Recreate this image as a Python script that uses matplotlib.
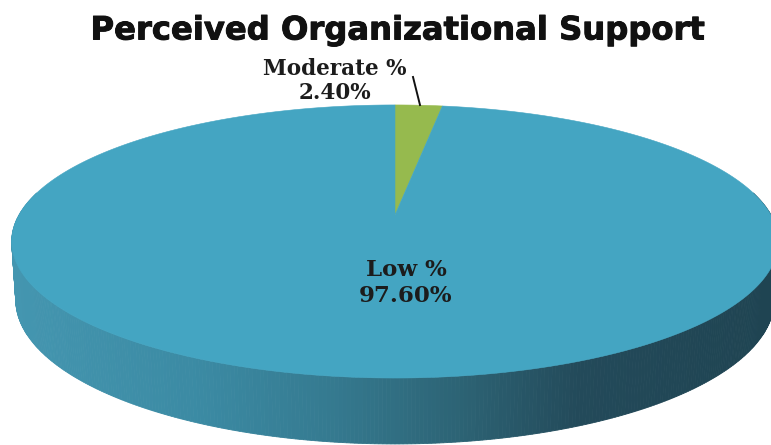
"""3D-style pie of perceived organizational support levels."""

from __future__ import annotations

import matplotlib

matplotlib.use("Agg")
import matplotlib.patheffects as pe
import matplotlib.pyplot as plt
import numpy as np
from matplotlib.colors import LinearSegmentedColormap

categories = ["Low %", "Moderate %"]
shares = [97.60, 2.40]
share_labels = ["97.60%", "2.40%"]
slice_colors = ["#44a5c2", "#96ba4e"]

# disc geometry in figure pixels, tilted with a simple projective foreshortening
CX, CY = 395.0, 215.0
RX, RY = 376.0, 131.4
TILT = 0.194
# lower rim of the wall: dropped, slightly taller and narrower than the top rim
WALL_DROP = 57.0
WALL_RY = 138.6
WALL_RX = 372.0


def project(theta, rx=RX, ry=RY, cy=CY):
    """Map a clockwise-from-top angle on a rim (radians) to pixel coordinates."""
    u, v = np.sin(theta), np.cos(theta)
    w = 1 + TILT * v
    return CX + rx * u / w, cy - ry * v / w


fig = plt.figure(figsize=(7.71, 4.45), dpi=100)
ax = fig.add_axes([0, 0, 1, 1])
ax.set_xlim(0, 771)
ax.set_ylim(445, 0)
ax.axis("off")

# side wall, shaded left to right in thin strips
wall_cmap = LinearSegmentedColormap.from_list(
    "wall",
    [
        (0.0, "#4496b0"),
        (0.25, "#3b8aa3"),
        (0.42, "#357a90"),
        (0.60, "#2c6273"),
        (0.75, "#234a5a"),
        (1.0, "#1f4452"),
    ],
)
theta = np.radians(np.linspace(80, 280, 401))
xs, ys = project(theta)
xb, yb = project(theta, WALL_RX, WALL_RY, CY + WALL_DROP)
for i in range(len(theta) - 1):
    px = [xs[i], xs[i + 1], xb[i + 1], xb[i]]
    py = [ys[i], ys[i + 1], yb[i + 1], yb[i]]
    shade = wall_cmap(((xs[i] + xs[i + 1]) / 2 - 10) / 761)
    ax.fill(px, py, color=shade, lw=0.6, zorder=1)

# top face, slices run clockwise from 12 o'clock
fractions = np.array(shares[::-1]) / sum(shares)
edges = np.concatenate([[0], np.cumsum(fractions)]) * 2 * np.pi
for i, color in enumerate(slice_colors[::-1]):
    angle = np.linspace(edges[i], edges[i + 1], 400)
    rim_x, rim_y = project(angle)
    ax.fill(
        np.concatenate([[CX], rim_x]),
        np.concatenate([[CY], rim_y]),
        color=color,
        lw=0.4,
        zorder=2,
    )

title_font = {"family": "DejaVu Sans", "weight": "bold", "color": "#111111"}
label_font = {"family": "DejaVu Serif", "weight": "bold", "color": "#1c1c1c"}

title = ax.text(398, 31, "Perceived Organizational Support", fontsize=23.2,
                ha="center", va="center", **title_font)
title.set_path_effects([pe.withStroke(linewidth=0.7, foreground="#111111")])
ax.text(335, 69, categories[1], fontsize=15.5, ha="center", va="center", **label_font)
ax.text(335, 93, share_labels[1], fontsize=15.5, ha="center", va="center", **label_font)
ax.text(406, 270, categories[0], fontsize=16.5, ha="center", va="center", **label_font)
ax.text(406, 296, share_labels[0], fontsize=16.5, ha="center", va="center", **label_font)

# leader line for the small slice
ax.plot([413, 420], [77, 105], color="#111111", lw=1.4, zorder=3)

fig.savefig("out.png", dpi=100)
plt.close(fig)
